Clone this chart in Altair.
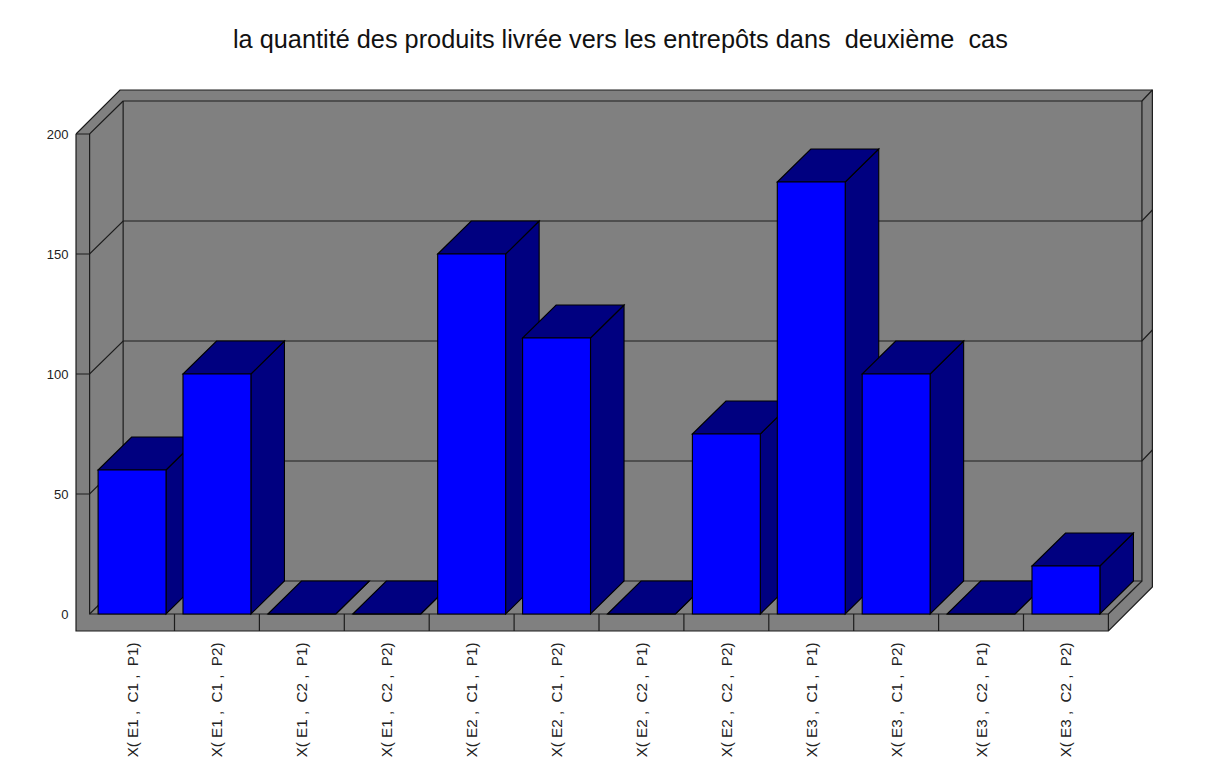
import altair as alt
import pandas as pd
import numpy as np

TITLE = "la quantité des produits livrée vers les entrepôts dans \u00a0deuxième \u00a0cas"
LABELS = ["X( E1 , \u00a0C1 , \u00a0P1)", "X( E1 , \u00a0C1 , \u00a0P2)",
          "X( E1 , \u00a0C2 , \u00a0P1)", "X( E1 , \u00a0C2 , \u00a0P2)",
          "X( E2 , \u00a0C1 , \u00a0P1)", "X( E2 , \u00a0C1 , \u00a0P2)",
          "X( E2 , \u00a0C2 , \u00a0P1)", "X( E2 , \u00a0C2 , \u00a0P2)",
          "X( E3 , \u00a0C1 , \u00a0P1)", "X( E3 , \u00a0C1 , \u00a0P2)",
          "X( E3 , \u00a0C2 , \u00a0P1)", "X( E3 , \u00a0C2 , \u00a0P2)"]
VALUES = [60, 100, 0, 0, 150, 115, 0, 75, 180, 100, 0, 20]
GRID = [50, 100, 150]
TICKS = [0, 50, 100, 150, 200]

# scale: 84.9 px per slot, 2.4 px per unit
GAP, BAR_W = 0.1, 0.8
DX, DY = 0.395, 13.75        # inner depth
ODX, ODY = 0.518, 18.33      # outer depth
LEFT = -0.16
NS = len(VALUES)
TOPV = 200
FLOOR = -7.08


def face(fid, top, bottom, fill, stroke):
    xs = sorted(set([p[0] for p in top] + [p[0] for p in bottom]))
    tx, ty = zip(*top)
    bx, by = zip(*bottom)
    return [dict(face=fid, x=x, y=float(np.interp(x, tx, ty)), y2=float(np.interp(x, bx, by)),
                 fill=fill, stroke=stroke) for x in xs]


rows = []
for i, v in enumerate(VALUES):
    x0, x1 = i + GAP, i + GAP + BAR_W
    rows += face(f"{i}a", [(x1, v), (x1 + DX, v + DY)], [(x1, 0), (x1 + DX, DY)], "#000080", "#000000")
    rows += face(f"{i}b", [(x0, v), (x0 + DX, v + DY), (x1 + DX, v + DY)],
                 [(x0, v), (x1, v), (x1 + DX, v + DY)], "#000080", "#000000")
    rows += face(f"{i}c", [(x0, v), (x1, v)], [(x0, 0), (x1, 0)], "#0000FF", "#000000")
bars = pd.DataFrame(rows)

shell = pd.DataFrame(face("shell",
                          [(LEFT, TOPV), (LEFT + ODX, TOPV + ODY), (NS + ODX, TOPV + ODY)],
                          [(LEFT, FLOOR), (NS, FLOOR), (NS + ODX, FLOOR + ODY)],
                          "#808080", "#808080"))

polys = [
    [(LEFT, TOPV), (LEFT + ODX, TOPV + ODY), (NS + ODX, TOPV + ODY), (NS + ODX, FLOOR + ODY),
     (NS, FLOOR), (LEFT, FLOOR), (LEFT, TOPV)],
    [(DX, TOPV + DY), (NS + DX, TOPV + DY), (NS + DX, DY), (DX, DY), (DX, TOPV + DY)],
    [(0, TOPV), (0, 0), (NS, 0), (NS, FLOOR)],
    [(LEFT, TOPV), (0, TOPV), (DX, TOPV + DY)],
    [(NS + DX, TOPV + DY), (NS + ODX, TOPV + ODY)],
    [(0, 0), (DX, DY)],
    [(NS, 0), (NS + DX, DY)],
]
for g in GRID:
    polys.append([(LEFT, g), (0, g), (DX, g + DY), (NS + DX, g + DY), (NS + ODX, g + ODY)])
for i in range(1, NS):
    polys.append([(i, 0), (i, FLOOR)])
lines = pd.DataFrame([dict(pid=k, n=n, x=p[0], y=p[1]) for k, pl in enumerate(polys) for n, p in enumerate(pl)])

px_per_slot, px_per_unit = 84.9, 2.4
xdom = [(8 - 89.6) / px_per_slot, (1201 - 89.6) / px_per_slot]
ydom = [(614 - 776) / px_per_unit, (614 - 8) / px_per_unit]
xs = alt.Scale(domain=xdom, nice=False, zero=False)
ys = alt.Scale(domain=ydom, nice=False, zero=False)

label_js = "[" + ",".join("'" + s + "'" for s in LABELS) + "][floor(datum.value)]"
x_axis = alt.Axis(values=[i + 0.5 for i in range(NS)], labelExpr=label_js, orient="bottom", offset=-134,
                  title=None, domain=False, ticks=False, grid=False, labelAngle=270, labelAlign="right",
                  labelBaseline="middle", labelFont="Liberation Sans", labelFontSize=15.2, labelColor="#222222",
                  labelPadding=0, labelOverlap=False, labelBound=False, labelFlush=False)
y_axis = alt.Axis(values=TICKS, orient="left", offset=-60, title=None, domain=False, ticks=False, grid=False,
                  labelFont="Liberation Sans", labelFontSize=13, labelColor="#222222", labelPadding=0,
                  labelOverlap=False, labelBound=False, labelFlush=False, format="d")
X = alt.X("x:Q", scale=xs, axis=x_axis)
Y = alt.Y("y:Q", scale=ys, axis=y_axis)

base_shell = alt.Chart(shell).mark_area(orient="vertical", color="#808080").encode(x=X, y=Y, y2="y2:Q")
frame = alt.Chart(lines).mark_line(color="#1c1c1c", strokeWidth=1.2).encode(x=X, y=Y, detail="pid:N", order="n:Q")
layers = [base_shell, frame]
for fid, sub in bars.groupby("face", sort=False):
    layers.append(
        alt.Chart(sub).mark_area(orient="vertical", stroke="#000000", strokeWidth=1.1, fill=sub["fill"].iloc[0]).encode(
            x=X, y=Y, y2="y2:Q")
    )

chart = alt.layer(*layers).properties(
    width=1193, height=768, padding=0,
    autosize=alt.AutoSizeParams(type="none"),
    title=alt.TitleParams(TITLE, anchor="start", frame="group", dx=225, dy=45, offset=0,
                          font="Liberation Sans", fontSize=25.3, fontWeight="normal", color="#111111"),
    background="white",
).configure_view(stroke=None)

chart.save("out.html", embed_options={"renderer": "svg", "actions": False})
